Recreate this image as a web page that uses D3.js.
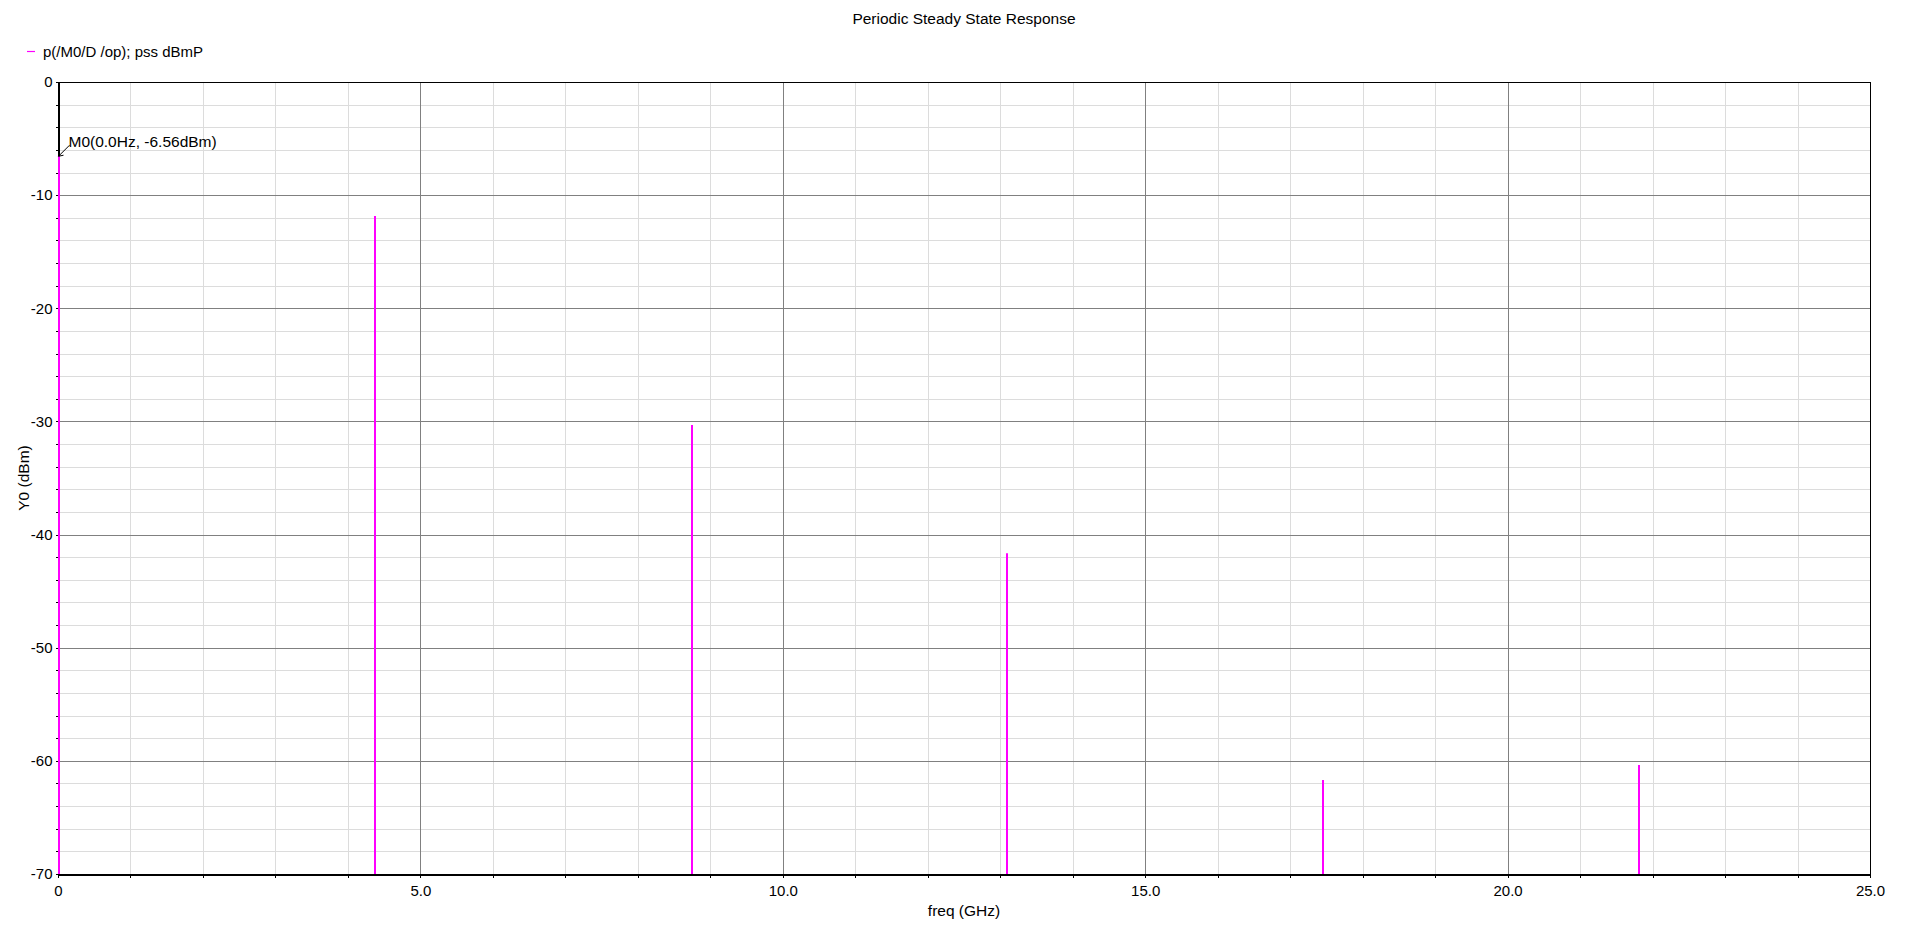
<!DOCTYPE html>
<html lang="en">
<head>
<meta charset="utf-8">
<title>Periodic Steady State Response</title>
<style>
  body { margin: 0; background: #fff; overflow: hidden; }
  svg text { font-family: "Liberation Sans", Arial, sans-serif; fill: #000; }
</style>
</head>
<body>
<div id="chart"></div>
<script src="https://cdnjs.cloudflare.com/ajax/libs/d3/7.8.5/d3.min.js"></script>
<script>
    // harmonics of the pss run: frequency (GHz) and level (dBm)
    var freqGHz  = [0, 4.364, 8.729, 13.08, 17.44, 21.80];
    var powerDbm = [-6.56, -11.84, -30.32, -41.66, -61.69, -60.37];

    var xTickValues = [0, 5, 10, 15, 20, 25];
    var xTickLabels = ["0", "5.0", "10.0", "15.0", "20.0", "25.0"];
    var yTickValues = [0, -10, -20, -30, -40, -50, -60, -70];
    var yTickLabels = ["0", "-10", "-20", "-30", "-40", "-50", "-60", "-70"];

    var seriesName = "p(/M0/D /op); pss dBmP";
    var markerText = "M0(0.0Hz, -6.56dBm)";

    var width = 1920, height = 931;
    var margin = {top: 82, right: 50, bottom: 57, left: 58};
    var magenta = "#ff00ff";

    var svg = d3.select("#chart").append("svg")
                .attr("width", width)
                .attr("height", height);

    var x = d3.scaleLinear().domain([0, 25]).range([margin.left, width - margin.right]);
    var y = d3.scaleLinear().domain([-70, 0]).range([height - margin.bottom, margin.top]);

    var plotW = x.range()[1] - x.range()[0];
    var plotH = y.range()[0] - y.range()[1];

    //grid lines: minor every 1 GHz / 2 dB, major every 5 GHz / 10 dB
    var grid = svg.append("g").attr("shape-rendering", "crispEdges");
    grid.append("g")
        .attr("transform", "translate(0," + (y(-70) + 0.5) + ")")
        .call(d3.axisBottom(x).tickValues(d3.range(1, 25, 1)).tickSize(-plotH).tickFormat(""))
        .call(function(g){ g.select(".domain").remove(); g.selectAll("line").attr("stroke", "#dcdcdc"); });
    grid.append("g")
        .attr("transform", "translate(" + (x(0) + 0.5) + ",0)")
        .call(d3.axisLeft(y).tickValues(d3.range(-68, 0, 2)).tickSize(-plotW).tickFormat(""))
        .call(function(g){ g.select(".domain").remove(); g.selectAll("line").attr("stroke", "#dcdcdc"); });
    grid.append("g")
        .attr("transform", "translate(0," + (y(-70) + 0.5) + ")")
        .call(d3.axisBottom(x).tickValues(xTickValues.slice(1, -1)).tickSize(-plotH).tickFormat(""))
        .call(function(g){ g.select(".domain").remove(); g.selectAll("line").attr("stroke", "#808080"); });
    grid.append("g")
        .attr("transform", "translate(" + (x(0) + 0.5) + ",0)")
        .call(d3.axisLeft(y).tickValues(yTickValues.slice(1, -1)).tickSize(-plotW).tickFormat(""))
        .call(function(g){ g.select(".domain").remove(); g.selectAll("line").attr("stroke", "#808080"); });

    // frame
    svg.append("rect")
       .attr("x", x(0) + 0.5).attr("y", y(0) + 0.5)
       .attr("width", plotW).attr("height", plotH)
       .attr("fill", "none").attr("stroke", "#000")
       .attr("shape-rendering", "crispEdges");

    // y axis
    var yAxis = svg.append("g")
        .attr("transform", "translate(" + (x(0) + 0.5) + ",0)")
        .attr("shape-rendering", "crispEdges");
    yAxis.call(d3.axisLeft(y).tickValues(d3.range(-70, 0.1, 2)).tickSize(3).tickSizeOuter(0).tickPadding(3)
                 .tickFormat(function(d){ var k = yTickValues.indexOf(d); return k < 0 ? "" : yTickLabels[k]; }));
    yAxis.selectAll("text").attr("font-size", 15).attr("font-family", null);
    yAxis.select(".domain").attr("stroke", "#000");

    // x axis
    var xAxis = svg.append("g")
        .attr("transform", "translate(0," + (y(-70) + 0.5) + ")")
        .attr("shape-rendering", "crispEdges");
    xAxis.call(d3.axisBottom(x).tickValues(d3.range(0, 25.1, 1)).tickSize(3).tickSizeOuter(0).tickPadding(8)
                 .tickFormat(function(d){ var k = xTickValues.indexOf(d); return k < 0 ? "" : xTickLabels[k]; }));
    xAxis.selectAll("text").attr("font-size", 15).attr("font-family", null);
    xAxis.select(".domain").attr("stroke", "#000");

    // spectrum lines (drawn over the frame, the DC one sits on the y axis)
    svg.append("g").selectAll("line")
       .data(freqGHz)
       .enter().append("line")
       .attr("x1", function(d){ return Math.round(x(d)) + 1; })
       .attr("x2", function(d){ return Math.round(x(d)) + 1; })
       .attr("y1", y(-70))
       .attr("y2", function(d, i){ return y(powerDbm[i]); })
       .attr("stroke", magenta)
       .attr("stroke-width", 2);

    // titles
    svg.append("text")
       .attr("x", (x(0) + x(25)) / 2).attr("y", 24)
       .attr("text-anchor", "middle").attr("font-size", 15.5)
       .text("Periodic Steady State Response");
    svg.append("text")
       .attr("x", (x(0) + x(25)) / 2).attr("y", 916)
       .attr("text-anchor", "middle").attr("font-size", 15.5)
       .text("freq (GHz)");
    svg.append("text")
       .attr("transform", "translate(29," + (y(-35)) + ") rotate(-90)")
       .attr("text-anchor", "middle").attr("font-size", 15.5)
       .text("Y0 (dBm)");

    // legend
    svg.append("line")
       .attr("x1", 27).attr("x2", 35).attr("y1", 51.5).attr("y2", 51.5)
       .attr("stroke", magenta).attr("stroke-width", 1.2);
    svg.append("text")
       .attr("x", 43).attr("y", 57).attr("font-size", 15)
       .text(seriesName);

    // marker M0 on the DC line
    var mx = x(freqGHz[0]) + 0.5, my = y(powerDbm[0]);
    svg.append("line")
       .attr("x1", mx).attr("y1", my).attr("x2", mx + 11).attr("y2", my - 11)
       .attr("stroke", "#000").attr("stroke-width", 1);
    svg.append("path")
       .attr("d", "M" + (mx + 5) + "," + (my - 1) + "L" + mx + "," + my + "L" + (mx + 1) + "," + (my - 5))
       .attr("fill", "none").attr("stroke", "#000").attr("stroke-width", 1);
    svg.append("text")
       .attr("x", mx + 10).attr("y", my - 9.5).attr("font-size", 15.5)
       .text(markerText);
</script>
</body>
</html>
